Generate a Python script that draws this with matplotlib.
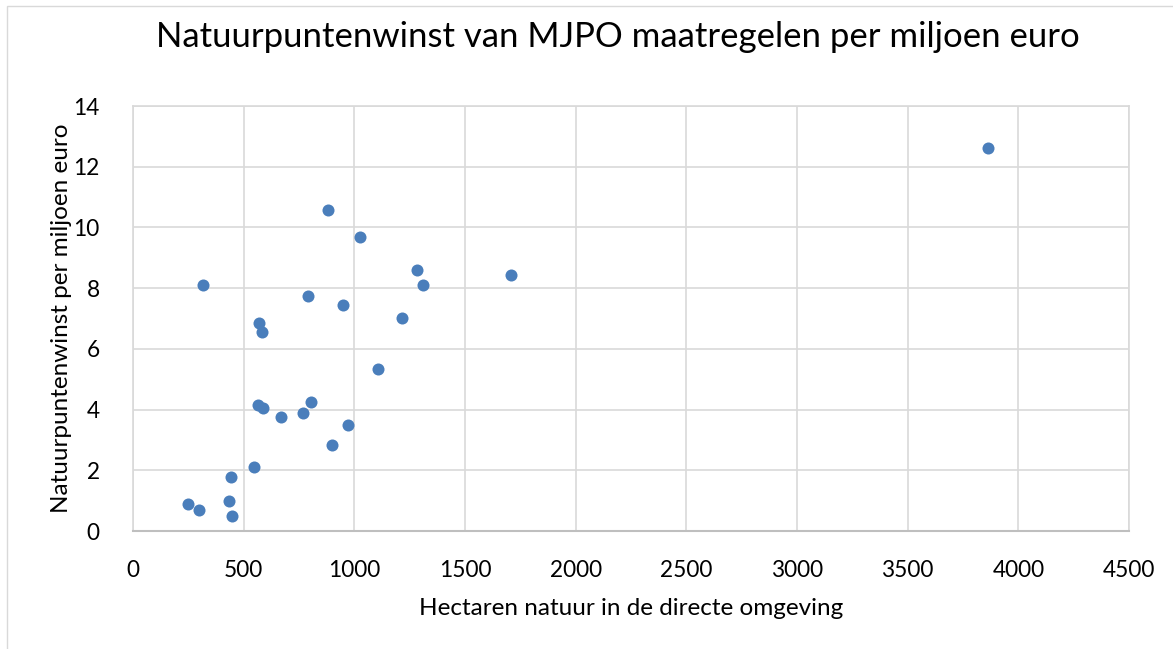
import matplotlib.pyplot as plt
from matplotlib.patches import Rectangle

# hectares of nature nearby vs. nature-point gain per million euro
hectaren = [316, 790, 951, 570, 584, 1216, 1281, 1312, 1105, 567, 588, 668, 766,
            804, 971, 898, 548, 444, 250, 298, 435, 448, 882, 1025, 1710, 3864]
winst = [8.09, 7.73, 7.46, 6.86, 6.54, 7.03, 8.61, 8.12, 5.33, 4.14, 4.06, 3.77, 3.88,
         4.25, 3.50, 2.82, 2.12, 1.77, 0.90, 0.68, 0.99, 0.48, 10.58, 9.70, 8.42, 12.61]
xticks = [0, 500, 1000, 1500, 2000, 2500, 3000, 3500, 4000, 4500]
yticks = [0, 2, 4, 6, 8, 10, 12, 14]

plt.rcParams['font.family'] = ['Lato', 'DejaVu Sans']

fig = plt.figure(figsize=(11.73, 6.49), dpi=100)
ax = fig.add_axes([133 / 1173, 1 - 531 / 649, (1129 - 133) / 1173, (531 - 106) / 649])

# chart border
fig.patches.append(Rectangle((7 / 1173, -0.1), 1.2, 1 - 6 / 649 + 0.1, transform=fig.transFigure,
                             fill=False, edgecolor='#D9D9D9', linewidth=1))

ax.scatter(hectaren, winst, s=75, color='#4A7EBB', zorder=3, linewidths=0)

ax.set_xlim(0, 4500)
ax.set_ylim(0, 14)
ax.set_xticks(xticks)
ax.set_yticks(yticks)
ax.grid(True, color='#D9D9D9', linewidth=1.2)
ax.set_axisbelow(True)
ax.tick_params(length=0, labelsize=16.3, pad=21, colors='#000000')
ax.tick_params(axis='y', pad=24)
for side in ['top', 'right', 'left']:
    ax.spines[side].set_color('#D9D9D9')
    ax.spines[side].set_linewidth(1.2)
ax.spines['bottom'].set_color('#BFBFBF')
ax.spines['bottom'].set_linewidth(1.5)

ax.set_xlabel("Hectaren natuur in de directe omgeving", fontsize=17.5, labelpad=12)
ax.set_ylabel("Natuurpuntenwinst per miljoen euro", fontsize=17.5)
ax.yaxis.set_label_coords(-0.061, 0.5)
fig.text(0.527, 1 - 37 / 649, "Natuurpuntenwinst van MJPO maatregelen per miljoen euro",
         fontsize=25, ha='center', va='center')

plt.savefig("out.png", dpi=100)
